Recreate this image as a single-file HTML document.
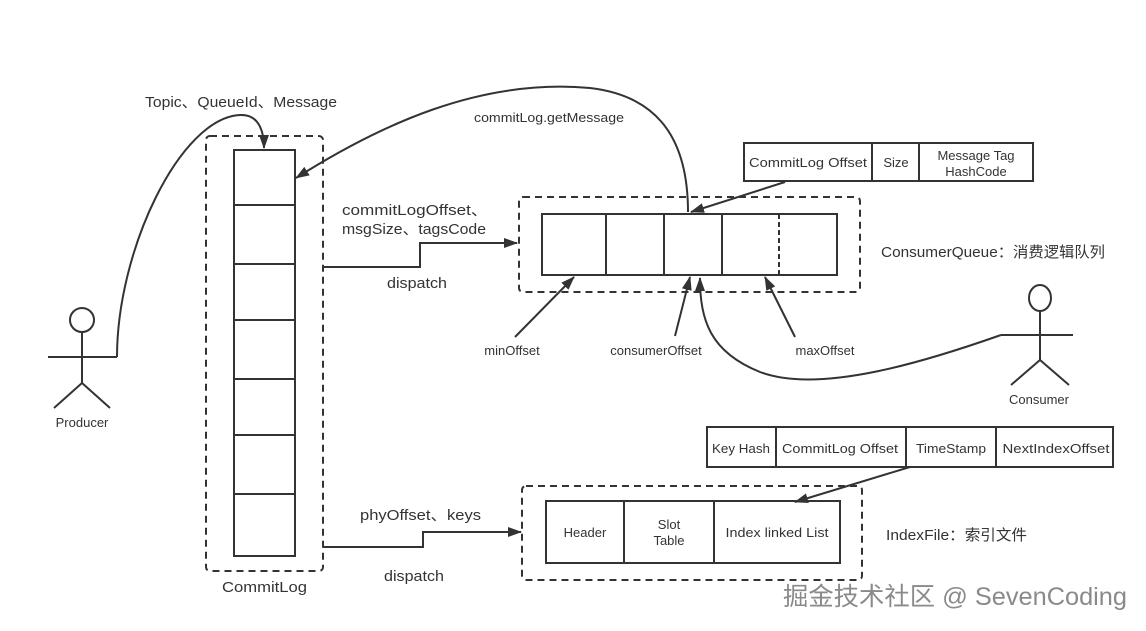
<!DOCTYPE html>
<html><head><meta charset="utf-8"><style>
html,body{margin:0;padding:0;background:#fff;}
svg{display:block;}
text{font-family:"Liberation Sans","Noto Sans CJK SC",sans-serif;fill:#333;}
</style></head><body>
<svg width="1146" height="631" viewBox="0 0 1146 631" xmlns="http://www.w3.org/2000/svg">
<defs>
<marker id="b" markerWidth="14" markerHeight="10" refX="13" refY="5" orient="auto" markerUnits="userSpaceOnUse">
<path d="M0,0 L14,5 L0,10 z" fill="#333"/></marker>
</defs>
<g stroke="#333" fill="none" stroke-width="2">
<rect x="206" y="136" width="117" height="435" rx="4" stroke-dasharray="7,5"/>
<rect x="234" y="150" width="61" height="406"/>
<path d="M234,205H295M234,264H295M234,320H295M234,379H295M234,435H295M234,494H295"/>
<circle cx="82" cy="320" r="12"/>
<path d="M82,332V383M48,357H117M82,383L54,408M82,383L110,408"/>
<path d="M117,357C117,250 180,118 240,115C258,114 264,130 264,148" marker-end="url(#b)"/>
<path d="M688,212C688,130 650,95 590,88C480,78 380,125 296,178" marker-end="url(#b)"/>
<path d="M323,267H420V243H517" marker-end="url(#b)"/>
<path d="M323,547H423V532H521" marker-end="url(#b)"/>
<rect x="519" y="197" width="341" height="95" rx="4" stroke-dasharray="7,5"/>
<rect x="542" y="214" width="295" height="61"/>
<path d="M606,214V275M664,214V275M722,214V275"/>
<path d="M779,214V275" stroke-dasharray="5,3"/>
<rect x="744" y="143" width="289" height="38"/>
<path d="M872,143V181M919,143V181"/>
<path d="M785,182L691,212" marker-end="url(#b)"/>
<path d="M515,337L574,277" marker-end="url(#b)"/>
<path d="M675,336L690,277" marker-end="url(#b)"/>
<path d="M795,337L765,277" marker-end="url(#b)"/>
<path d="M1001,335C930,360 820,395 760,372C710,352 700,320 700,278" marker-end="url(#b)"/>
<ellipse cx="1040" cy="298" rx="11" ry="13"/>
<path d="M1040,311V360M1001,335H1073M1040,360L1011,385M1040,360L1069,385"/>
<rect x="707" y="427" width="406" height="40"/>
<path d="M776,427V467M906,427V467M996,427V467"/>
<path d="M910,467L795,502" marker-end="url(#b)"/>
<rect x="522" y="486" width="340" height="94" rx="4" stroke-dasharray="7,5"/>
<rect x="546" y="501" width="294" height="62"/>
<path d="M624,501V563M714,501V563"/>
</g>
<g font-size="15">
<text x="145" y="107" textLength="192" lengthAdjust="spacingAndGlyphs">Topic、QueueId、Message</text>
<text x="474" y="122" font-size="13" textLength="150" lengthAdjust="spacingAndGlyphs">commitLog.getMessage</text>
<text x="342" y="215" textLength="146" lengthAdjust="spacingAndGlyphs">commitLogOffset、</text>
<text x="342" y="234" textLength="144" lengthAdjust="spacingAndGlyphs">msgSize、tagsCode</text>
<text x="387" y="288" textLength="60" lengthAdjust="spacingAndGlyphs">dispatch</text>
<text x="360" y="520" textLength="121" lengthAdjust="spacingAndGlyphs">phyOffset、keys</text>
<text x="384" y="581" textLength="60" lengthAdjust="spacingAndGlyphs">dispatch</text>
<text x="222" y="592" textLength="85" lengthAdjust="spacingAndGlyphs">CommitLog</text>
<text x="881" y="257" textLength="224" lengthAdjust="spacingAndGlyphs">ConsumerQueue：消费逻辑队列</text>
<text x="886" y="540" textLength="141" lengthAdjust="spacingAndGlyphs">IndexFile：索引文件</text>
</g>
<g font-size="13" text-anchor="middle">
<text x="82" y="427">Producer</text>
<text x="1039" y="404">Consumer</text>
<text x="512" y="355">minOffset</text>
<text x="656" y="355">consumerOffset</text>
<text x="825" y="355">maxOffset</text>
<text x="808" y="167" textLength="118" lengthAdjust="spacingAndGlyphs">CommitLog Offset</text>
<text x="896" y="167">Size</text>
<text x="976" y="160">Message Tag</text>
<text x="976" y="176">HashCode</text>
<text x="741" y="453" textLength="58" lengthAdjust="spacingAndGlyphs">Key Hash</text>
<text x="840" y="453" textLength="116" lengthAdjust="spacingAndGlyphs">CommitLog Offset</text>
<text x="951" y="453" textLength="70" lengthAdjust="spacingAndGlyphs">TimeStamp</text>
<text x="1056" y="453" textLength="107" lengthAdjust="spacingAndGlyphs">NextIndexOffset</text>
<text x="585" y="537">Header</text>
<text x="669" y="529">Slot</text>
<text x="669" y="545">Table</text>
<text x="777" y="537" textLength="103" lengthAdjust="spacingAndGlyphs">Index linked List</text>
</g>
<text x="783" y="605" font-size="25" textLength="344" lengthAdjust="spacingAndGlyphs" style="fill:#8a8a8a">掘金技术社区 @ SevenCoding</text>
</svg>
</body></html>
